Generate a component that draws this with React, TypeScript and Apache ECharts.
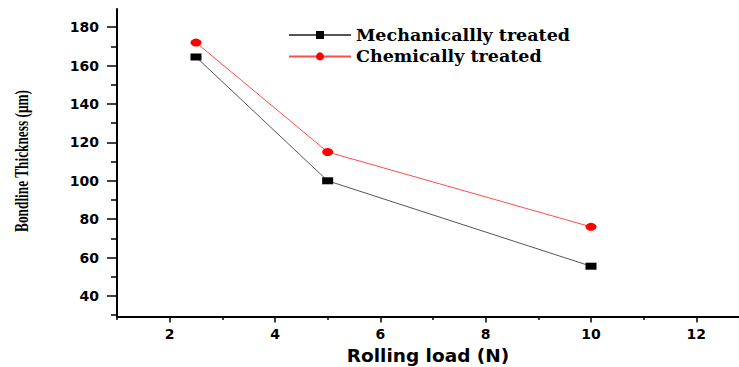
import React, { useEffect, useRef } from "react";
import * as echarts from "echarts";

const rollingLoad = [2.5, 5, 10];
const mechanical = [164.5, 100, 55.5];
const chemical = [172, 115, 76];
const seriesNames = ["Mechanicallly treated", "Chemically treated"];
const xMajorTicks = [2, 4, 6, 8, 10, 12];
const xMinorTicks = [1, 3, 5, 7, 9, 11];
const yMajorTicks = [40, 60, 80, 100, 120, 140, 160, 180];
const yMinorTicks = [30, 50, 70, 90, 110, 130, 150, 170];
const yTitle = "Bondline Thickness (\u03bcm)";
const xTitle = "Rolling load (N)";

const X_MIN = 1;
const X_MAX = 12.81;
const Y_MIN = 29.3;
const Y_MAX = 189.5;

export default function App() {
  const ref = useRef<HTMLDivElement>(null);
  useEffect(() => {
    if (!ref.current) return;
    const chart = echarts.init(ref.current, null, { renderer: "svg" });
    const labelFont = {
      fontFamily: "DejaVu Sans",
      fontWeight: "bold" as const,
      fontSize: 14,
      color: "#000",
    };
    chart.setOption({
      animation: false,
      backgroundColor: "#fff",
      grid: {
        left: 117,
        top: 9,
        right: 0,
        bottom: 50.5,
        containLabel: false,
        outerBoundsMode: "none",
      },
      legend: {
        orient: "vertical",
        left: 283,
        top: 21,
        itemWidth: 62,
        itemHeight: 10,
        itemGap: 3.4,
        data: seriesNames,
        textStyle: {
          fontFamily: "DejaVu Serif",
          fontWeight: "bold",
          fontSize: 17.5,
          color: "#000",
        },
      },
      graphic: [
        {
          type: "text",
          x: 22,
          y: 161,
          rotation: Math.PI / 2,
          scaleX: 0.72,
          scaleY: 1,
          style: {
            text: yTitle,
            fontFamily: "Liberation Serif",
            fontWeight: "bold",
            fontSize: 18.5,
            fill: "#000",
            align: "center",
            verticalAlign: "middle",
          },
        },
      ],
      xAxis: [
        {
          type: "value",
          min: X_MIN,
          max: X_MAX,
          name: xTitle,
          nameLocation: "middle",
          nameGap: 29,
          nameTextStyle: {
            fontFamily: "DejaVu Sans",
            fontWeight: "bold",
            fontSize: 18.5,
            color: "#000",
          },
          axisLine: { show: true, onZero: false, lineStyle: { color: "#000", width: 2 } },
          axisTick: {
            show: true,
            customValues: xMajorTicks,
            length: 6,
            lineStyle: { color: "#000", width: 1.5 },
          },
          axisLabel: { ...labelFont, customValues: xMajorTicks, margin: 10 },
          splitLine: { show: false },
        },
        {
          type: "value",
          min: X_MIN,
          max: X_MAX,
          position: "bottom",
          axisLine: { show: false },
          axisTick: {
            show: true,
            customValues: xMinorTicks,
            length: 3.5,
            lineStyle: { color: "#000", width: 1.5 },
          },
          axisLabel: { show: false },
          splitLine: { show: false },
        },
      ],
      yAxis: [
        {
          type: "value",
          min: Y_MIN,
          max: Y_MAX,
          axisLine: { show: true, onZero: false, lineStyle: { color: "#000", width: 2 } },
          axisTick: {
            show: true,
            customValues: yMajorTicks,
            length: 10,
            lineStyle: { color: "#000", width: 1.5 },
          },
          axisLabel: { ...labelFont, customValues: yMajorTicks, margin: 18 },
          splitLine: { show: false },
        },
        {
          type: "value",
          min: Y_MIN,
          max: Y_MAX,
          position: "left",
          axisLine: { show: false },
          axisTick: {
            show: true,
            customValues: yMinorTicks,
            length: 6,
            lineStyle: { color: "#000", width: 1.5 },
          },
          axisLabel: { show: false },
          splitLine: { show: false },
        },
      ],
      series: [
        {
          name: seriesNames[0],
          type: "line",
          data: rollingLoad.map((x, i) => [x, mechanical[i]]),
          symbol: "rect",
          symbolSize: [11, 7],
          itemStyle: { color: "#000" },
          lineStyle: { color: "#555", width: 1 },
        },
        {
          name: seriesNames[1],
          type: "line",
          data: rollingLoad.map((x, i) => [x, chemical[i]]),
          symbol: "circle",
          symbolSize: [11, 8],
          itemStyle: { color: "#ff0000" },
          lineStyle: { color: "#ff4d4d", width: 1 },
        },
      ],
    });
    return () => chart.dispose();
  }, []);
  return (
    <div
      ref={ref}
      style={{ position: "fixed", left: 0, top: 0, width: 739, height: 367 }}
    />
  );
}
